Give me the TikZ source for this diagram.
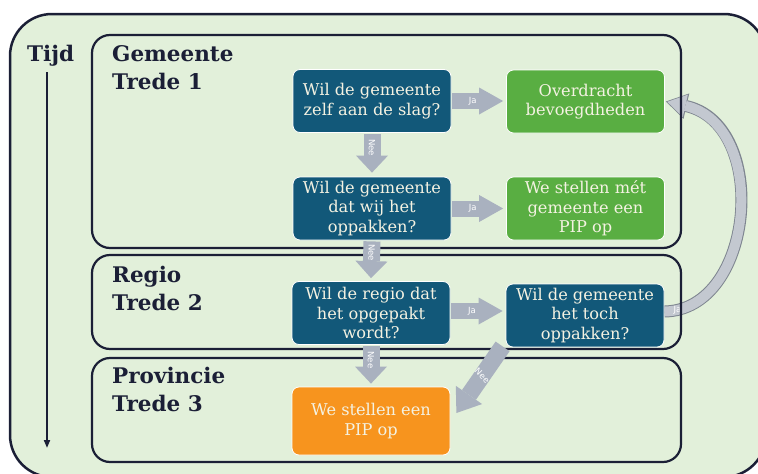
\documentclass[tikz,border=0pt]{standalone}
\usepackage{fontspec}
\setmainfont{DejaVu Serif}
\setsansfont{DejaVu Sans}
\usetikzlibrary{arrows.meta,calc}
\definecolor{bggreen}{HTML}{E2F0DA}
\definecolor{navy}{HTML}{1B1F36}
\definecolor{qblue}{HTML}{125879}
\definecolor{agreen}{HTML}{59AE42}
\definecolor{aorange}{HTML}{F7941E}
\definecolor{agray}{HTML}{A9B1BF}
\definecolor{cream}{HTML}{F4F2E2}
\definecolor{curvefill}{HTML}{C3C8D0}
\definecolor{curveedge}{HTML}{7E8590}
\pgfdeclarelayer{bglayer}
\pgfdeclarelayer{midlayer}
\pgfsetlayers{bglayer,midlayer,main}
\begin{document}
\begin{tikzpicture}[x=1pt,y=-1pt,
  box/.style={rounded corners=7pt, draw=white, line width=0.8pt, text=cream, align=center,
    font=\fontsize{16.2}{19.5}\selectfont, minimum width=158pt, minimum height=63pt, inner sep=2pt},
  qbox/.style={box, fill=qblue},
  gbox/.style={box, fill=agreen},
  obox/.style={box, fill=aorange},
  tier/.style={draw=navy, line width=2.2pt, rounded corners=18pt},
  head/.style={font=\bfseries\fontsize{21.5}{24}\selectfont, text=navy, anchor=base west, inner sep=0pt},
  harrow/.style={draw=agray, line width=16pt, -{Triangle[width=27pt,length=24pt,line width=0pt]}},
  varrow/.style={draw=agray, line width=17pt, -{Triangle[width=32pt,length=17pt,line width=0pt]}},
  darrow/.style={draw=agray, line width=17pt, -{Triangle[width=32pt,length=22pt,line width=0pt]}},
  albl/.style={font=\sffamily\fontsize{8.5}{8.5}\selectfont, text=white, inner sep=0pt},
  curveouter/.style={draw=curveedge, line width=12pt, -{Triangle[width=26pt,length=21pt,line width=0pt]}},
  curveinner/.style={draw=curvefill, line width=10pt, shorten >=1.4pt, -{Triangle[width=23pt,length=18.5pt,line width=0pt]}},
]
\useasboundingbox (0,0) rectangle (758,474);
\begin{pgfonlayer}{bglayer}
\begin{scope}
\clip (0,0) rectangle (758,474);
\draw[fill=bggreen, draw=navy, line width=2.5pt, rounded corners=42pt] (10,14) rectangle (766,477);
\end{scope}
\end{pgfonlayer}

% tiers
\draw[tier] (92,35) rectangle (681,248);
\draw[tier] (92,255) rectangle (681,349);
\draw[tier] (92,358) rectangle (681,462);

% headings
\node[head] (tijd) at (27,61) {Tijd};
\node[head] (h1a) at (112,61) {Gemeente};
\node[head] (h1b) at (112,89) {Trede 1};
\node[head] (h2a) at (112,282) {Regio};
\node[head] (h2b) at (112,310) {Trede 2};
\node[head] (h3a) at (112,383) {Provincie};
\node[head] (h3b) at (112,411) {Trede 3};

% time arrow
\coordinate (t0) at (47,72);
\coordinate (t1) at (47,448);
\draw[navy, line width=1.8pt, -{Triangle[width=6pt,length=8pt]}] (t0) -- (t1);

% boxes
\node[qbox] (q1) at (372,101) {Wil de gemeente\\zelf aan de slag?};
\node[gbox] (g1) at (585.5,101.5) {Overdracht\\bevoegdheden};
\node[qbox] (q2) at (372,208.5) {Wil de gemeente\\dat wij het\\oppakken?};
\node[gbox] (g2) at (585.5,208.5) {We stellen mét\\gemeente een\\PIP op};
\node[qbox] (q3) at (371,313) {Wil de regio dat\\het opgepakt\\wordt?};
\node[qbox] (q4) at (585,315.5) {Wil de gemeente\\het toch\\oppakken?};
\node[obox, minimum height=68pt] (o) at (371,421) {We stellen een\\PIP op};

% curved arrow (behind tier borders)
\begin{pgfonlayer}{midlayer}
\draw[curveouter] ([yshift=4pt]q4.east) .. controls (755,310) and (770,125) .. ([xshift=1pt]g1.east);
\draw[curveinner] ([yshift=4pt,xshift=0.1pt]q4.east) .. controls (755,310) and (770,125) .. ([xshift=1pt]g1.east)
  node[albl, pos=0.05] {Ja};
\end{pgfonlayer}

% straight block arrows
\draw[harrow] ([xshift=1pt]q1.east) -- ([xshift=-3pt]q1.east -| g1.west) node[albl, pos=0.4] {Ja};
\draw[harrow] ([xshift=1pt]q2.east) -- ([xshift=-3pt]q2.east -| g2.west) node[albl, pos=0.4] {Ja};
\draw[harrow] ([xshift=1pt,yshift=2pt]q3.east) -- ([xshift=-3pt,yshift=2pt]q3.east -| q4.west) node[albl, pos=0.4] {Ja};
\draw[varrow] ([yshift=-1pt]q1.south) -- ([yshift=4pt]q2.north) node[albl, pos=0.35, rotate=-90] {Nee};
\draw[varrow] ([yshift=-1pt]q2.south) -- ([yshift=3pt]q3.north) node[albl, pos=0.3, rotate=-90] {Nee};
\draw[varrow] ([yshift=-1pt]q3.south) -- ([yshift=3pt]o.north) node[albl, pos=0.37, rotate=-90] {Nee};
\draw[darrow] ([xshift=-3pt,yshift=1pt]q4.south west) -- ([xshift=6pt,yshift=8pt]o.east) node[albl, pos=0.44, rotate=-45] {Nee};
\end{tikzpicture}
\end{document}
